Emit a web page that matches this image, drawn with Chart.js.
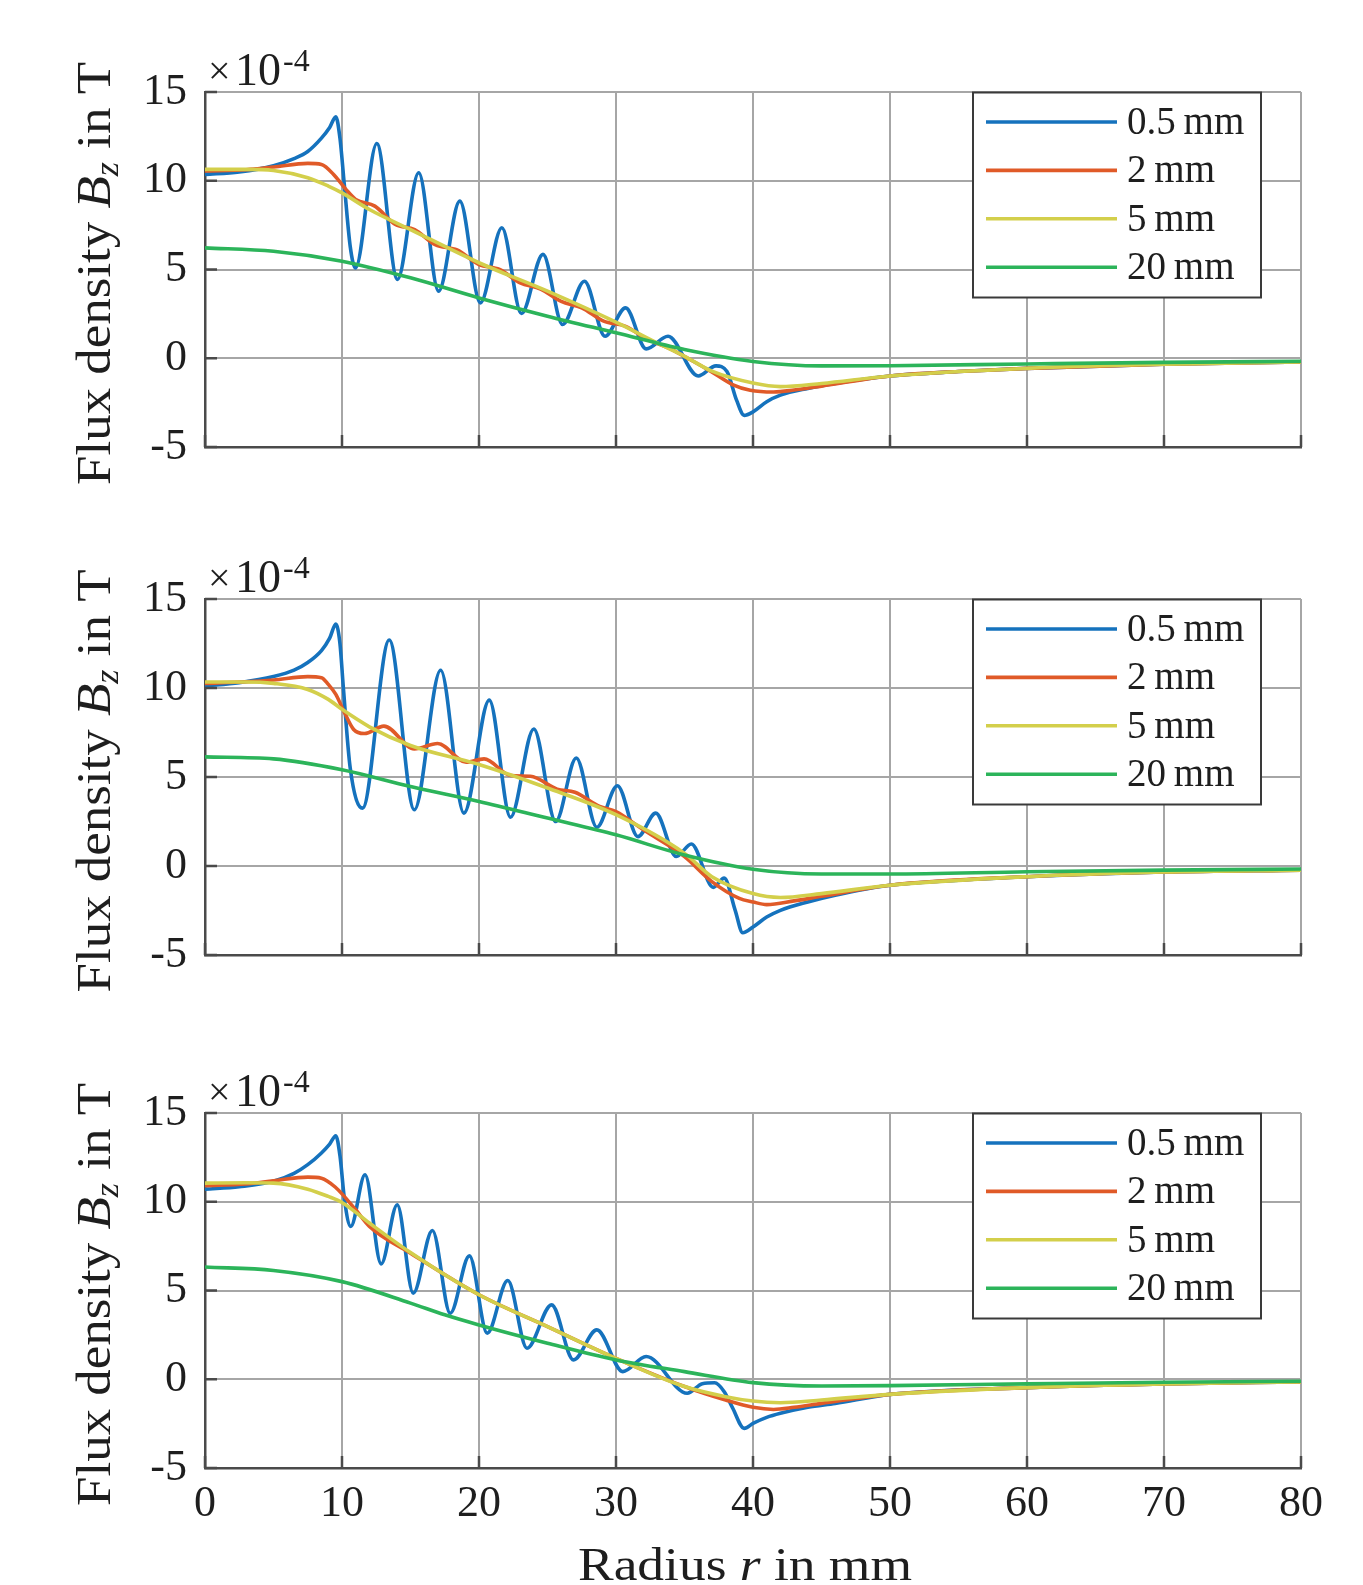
<!DOCTYPE html>
<html>
<head>
<meta charset="utf-8">
<script src="https://cdn.jsdelivr.net/npm/chart.js@4.4.1/dist/chart.umd.min.js"></script>
<style>
  html, body { margin:0; padding:0; background:#fff; }
  #fig { position:relative; width:1363px; height:1585px; overflow:hidden; background:#fff; }
  #fig canvas { position:absolute; left:0; }
</style>
</head>
<body>
<div id="fig">
  <canvas id="c1" width="1363" height="507" style="top:0;width:1363px;height:507px"></canvas>
  <canvas id="c2" width="1363" height="507" style="top:507px;width:1363px;height:507px"></canvas>
  <canvas id="c3" width="1363" height="564" style="top:1021px;width:1363px;height:564px"></canvas>
</div>
<script>
// series labels + colours (MATLAB-ish palette as it appears in the picture)
const LABELS = ['0.5 mm', '2 mm', '5 mm', '20 mm'];
const COLORS = ['#1572bd', '#e05a28', '#d3cf4b', '#2cb45a'];

// ---- top panel (values in 1e-4 T, r in mm) ----
const top05x = [0, 2.5, 5, 6.5, 7.5, 8.5, 9.1, 9.55, 9.85, 10.2, 10.6, 10.98, 12.54, 14.05, 15.6, 17.05, 18.6, 20.1, 21.67, 23.1, 24.67, 26.1, 27.7, 29.2, 30.7, 32.2, 33.8, 36.0, 37.3, 38.1, 38.8, 39.36, 40, 41, 42, 44, 46, 50, 55, 60, 70, 80];
const top05y = [10.36, 10.5, 10.85, 11.25, 11.65, 12.4, 13.0, 13.6, 12.4, 9.5, 6.3, 5.09, 12.1, 4.44, 10.45, 3.78, 8.85, 3.12, 7.35, 2.52, 5.85, 1.9, 4.34, 1.24, 2.84, 0.53, 1.24, -1.0, -0.43, -0.75, -2.36, -3.22, -3.02, -2.45, -2.08, -1.7, -1.42, -1.0, -0.75, -0.57, -0.34, -0.21];
const top2x = [0, 3, 5, 7.5, 8.5, 9.5, 10.3, 11, 12.4, 13.9, 15.3, 16.8, 18.4, 20, 21.5, 23, 24.5, 26, 27.5, 29.1, 30.7, 32.2, 33.8, 35.4, 36.9, 38.5, 39.8, 41.5, 43, 45, 50, 55, 60, 70, 80];
const top2y = [10.55, 10.62, 10.77, 10.98, 10.92, 10.26, 9.5, 8.95, 8.57, 7.54, 7.25, 6.4, 6.1, 5.28, 5.0, 4.25, 3.9, 3.2, 2.84, 2.09, 1.8, 1.1, 0.58, -0.07, -0.73, -1.48, -1.8, -1.9, -1.79, -1.57, -1.0, -0.75, -0.57, -0.34, -0.21];
const top5x = [0, 3, 5, 7.5, 9, 10, 12, 15, 20, 25, 30, 33, 35, 37, 40, 42, 45, 50, 60, 70, 80];
const top5y = [10.64, 10.64, 10.58, 10.17, 9.7, 9.32, 8.38, 7.25, 5.38, 3.78, 2.03, 0.86, 0.11, -0.73, -1.4, -1.6, -1.42, -1.0, -0.57, -0.34, -0.21];
const top20x = [0, 5, 10, 15, 20, 25, 30, 35, 40, 45, 50, 60, 70, 80];
const top20y = [6.22, 6.03, 5.47, 4.53, 3.4, 2.37, 1.43, 0.49, -0.18, -0.43, -0.42, -0.32, -0.23, -0.17];

// ---- middle panel ----
const mid05x = [0, 2.5, 5, 6.5, 7.5, 8.5, 9.1, 9.55, 9.85, 10.1, 10.6, 11.5, 13.45, 15.28, 17.2, 18.9, 20.75, 22.3, 24.0, 25.6, 27.1, 28.6, 30.1, 31.6, 32.9, 34.4, 35.5, 37.1, 37.9, 38.7, 39.25, 40, 41, 42, 44, 46, 50, 55, 60, 70, 80];
const mid05y = [10.11, 10.3, 10.64, 11.0, 11.43, 12.1, 12.8, 13.59, 12.5, 10.0, 5.5, 3.25, 12.7, 3.16, 11.0, 2.97, 9.32, 2.74, 7.7, 2.5, 6.07, 2.18, 4.51, 1.65, 2.97, 0.53, 1.24, -1.2, -0.68, -2.49, -3.75, -3.43, -2.87, -2.49, -2.02, -1.64, -1.08, -0.8, -0.6, -0.34, -0.23];
const mid2x = [0, 3, 5, 7.5, 8.5, 9.0, 9.55, 10.07, 10.85, 11.63, 13.06, 15.28, 16.98, 19.06, 20.37, 22.32, 23.75, 25.7, 27.0, 28.8, 30, 32, 35, 37, 39, 40, 41, 43, 45, 50, 60, 70, 80];
const mid2y = [10.26, 10.35, 10.45, 10.64, 10.58, 10.2, 9.64, 8.8, 7.67, 7.44, 7.86, 6.58, 6.88, 5.83, 6.02, 5.08, 5.04, 4.32, 4.14, 3.35, 3.06, 2.03, 0.53, -0.88, -1.82, -2.02, -2.17, -1.96, -1.7, -1.08, -0.6, -0.34, -0.23];
const mid5x = [0, 3, 5, 7.5, 9, 10, 12, 15, 20, 25, 30, 35, 37, 40, 42, 45, 50, 60, 70, 80];
const mid5y = [10.34, 10.34, 10.26, 9.92, 9.36, 8.8, 7.82, 6.77, 5.7, 4.38, 2.88, 0.71, -0.6, -1.55, -1.77, -1.55, -1.08, -0.6, -0.34, -0.23];
const mid20x = [0, 5, 10, 15, 20, 25, 30, 35, 40, 45, 50, 60, 70, 80];
const mid20y = [6.13, 6.02, 5.41, 4.47, 3.63, 2.69, 1.75, 0.62, -0.18, -0.45, -0.45, -0.32, -0.23, -0.17];

// ---- bottom panel ----
const bot05x = [0, 2.5, 5, 6.5, 7.5, 8.5, 9.1, 9.55, 9.85, 10.2, 10.64, 11.68, 12.86, 14.03, 15.2, 16.6, 17.9, 19.3, 20.6, 22.1, 23.5, 25.3, 26.9, 28.6, 30.5, 32.2, 35.2, 36.3, 37.2, 37.9, 38.5, 39.36, 40, 41, 42, 44, 46, 50, 60, 70, 80];
const bot05y = [10.71, 10.85, 11.15, 11.6, 12.09, 12.75, 13.25, 13.72, 12.6, 10.0, 8.61, 11.52, 6.5, 9.83, 4.85, 8.38, 3.72, 6.95, 2.6, 5.56, 1.75, 4.19, 1.09, 2.78, 0.43, 1.28, -0.79, -0.25, -0.2, -0.7, -1.6, -2.77, -2.49, -2.15, -1.92, -1.58, -1.36, -0.85, -0.47, -0.26, -0.15];
const bot2x = [0, 3, 5, 7.5, 8.5, 9.5, 11, 12, 15, 20, 25, 30, 35, 38, 40, 41.5, 43, 45, 50, 60, 70, 80];
const bot2y = [10.9, 11.0, 11.18, 11.39, 11.33, 10.83, 9.55, 8.61, 7.1, 4.76, 2.97, 1.18, -0.41, -1.17, -1.58, -1.7, -1.58, -1.36, -0.85, -0.47, -0.26, -0.15];
const bot5x = [0, 3, 5, 7.5, 9, 10, 12, 15, 20, 25, 30, 35, 38, 40, 42, 45, 50, 60, 70, 80];
const bot5y = [11.05, 11.07, 11.05, 10.71, 10.3, 9.96, 8.8, 7.14, 4.76, 2.97, 1.18, -0.41, -0.98, -1.23, -1.32, -1.17, -0.85, -0.47, -0.26, -0.15];
const bot20x = [0, 5, 10, 15, 17.5, 20, 25, 30, 35, 40, 45, 50, 60, 70, 80];
const bot20y = [6.32, 6.13, 5.5, 4.29, 3.63, 3.06, 2.03, 1.09, 0.43, -0.19, -0.38, -0.36, -0.26, -0.17, -0.11];

const SERIF = '"Liberation Serif", "Times New Roman", serif';
const TXT = '#1e1e1e';
const AXIS = '#4a4a4a';
const GRID = '#a6a6a6';

// draws a run of mixed-font text pieces, stretched to a target width
function drawRuns(ctx, runs, x0, y0, targetW) {
  let w = 0;
  runs.forEach(r => { ctx.font = r.f; r.w = ctx.measureText(r.t).width; w += r.w; });
  const k = targetW ? targetW / w : 1;
  ctx.save();
  ctx.translate(x0, y0);
  ctx.scale(k, 1);
  let x = -w / 2;
  runs.forEach(r => {
    ctx.font = r.f;
    ctx.fillText(r.t, x, r.dy || 0);
    x += r.w;
  });
  ctx.restore();
}

const decor = {
  id: 'decor',
  afterDraw(chart, args, opts) {
    const { ctx, chartArea: a, scales: { x, y } } = chart;
    ctx.save();

    // inward tick marks on left and bottom axes
    ctx.strokeStyle = AXIS;
    ctx.lineWidth = 2.5;
    ctx.beginPath();
    x.ticks.forEach(t => {
      const px = x.getPixelForValue(t.value);
      ctx.moveTo(px, a.bottom); ctx.lineTo(px, a.bottom - 12);
    });
    y.ticks.forEach(t => {
      const py = y.getPixelForValue(t.value);
      ctx.moveTo(a.left, py); ctx.lineTo(a.left + 12, py);
    });
    ctx.stroke();

    // legend box, top-right inside the axes
    const bx = a.right - 328, by = a.top + 0.5, bw = 288, bh = 205;
    ctx.fillStyle = '#fff';
    ctx.fillRect(bx, by, bw, bh);
    ctx.strokeStyle = '#3a3a3a';
    ctx.lineWidth = 2;
    ctx.strokeRect(bx, by, bw, bh);
    ctx.font = '39px ' + SERIF;
    ctx.textBaseline = 'alphabetic';
    chart.data.datasets.forEach((ds, i) => {
      const ly = by + 29.5 + i * 48.4;
      ctx.strokeStyle = ds.borderColor;
      ctx.lineWidth = 3.6;
      ctx.beginPath(); ctx.moveTo(bx + 13, ly); ctx.lineTo(bx + 144, ly); ctx.stroke();
      ctx.fillStyle = TXT;
      ctx.fillText(ds.label.replace(' ', '\u2009'), bx + 154, ly + 12);
    });

    ctx.fillStyle = TXT;
    ctx.textBaseline = 'alphabetic';

    // exponent  x10^-4
    ctx.font = '40px ' + SERIF;
    ctx.fillText('\u00d7', a.left + 3, a.top - 8);
    ctx.font = '46px ' + SERIF;
    ctx.fillText('10', a.left + 30, a.top - 7);
    ctx.font = '32px ' + SERIF;
    ctx.fillText('-4', a.left + 78, a.top - 21);

    // y title, rotated
    ctx.save();
    ctx.translate(110, (a.top + a.bottom) / 2 + 4);
    ctx.rotate(-Math.PI / 2);
    drawRuns(ctx, [
      { t: 'Flux density ', f: '48px ' + SERIF },
      { t: 'B', f: 'italic 48px ' + SERIF },
      { t: 'z', f: 'italic 33px ' + SERIF, dy: 8 },
      { t: ' in T', f: '48px ' + SERIF }
    ], 0, 0, 423);
    ctx.restore();

    // x title only under the last panel
    if (opts.xTitle) {
      drawRuns(ctx, [
        { t: 'Radius ', f: '46px ' + SERIF },
        { t: 'r', f: 'italic 46px ' + SERIF },
        { t: ' in mm', f: '46px ' + SERIF }
      ], 745, a.bottom + 112, 334);
    }
    ctx.restore();
  }
};

function makeChart(id, xs, ys, bottomH, showX) {
  const datasets = LABELS.map((lab, i) => ({
    label: lab,
    data: xs[i].map((v, k) => ({ x: v, y: ys[i][k] })),
    borderColor: COLORS[i],
    borderWidth: 3.6,
    pointRadius: 0,
    fill: false,
    cubicInterpolationMode: 'monotone',
    order: 3 - i
  }));
  return new Chart(document.getElementById(id), {
    type: 'line',
    data: { datasets },
    options: {
      responsive: false,
      animation: false,
      devicePixelRatio: 1,
      layout: { padding: { top: 92, right: 62, left: 0, bottom: 0 } },
      plugins: { legend: { display: false }, tooltip: { enabled: false }, decor: { xTitle: showX } },
      scales: {
        x: {
          type: 'linear', min: 0, max: 80,
          ticks: { stepSize: 10, display: showX, autoSkip: false, maxRotation: 0, padding: 10,
                   color: TXT, font: { family: SERIF, size: 44 } },
          grid: { color: GRID, lineWidth: 2, drawTicks: false },
          border: { color: AXIS, width: 2.5 },
          afterFit: s => { s.height = bottomH; }
        },
        y: {
          min: -5, max: 15,
          ticks: { stepSize: 5, padding: 18, color: TXT, font: { family: SERIF, size: 44 } },
          grid: { color: GRID, lineWidth: 2, drawTicks: false },
          border: { color: AXIS, width: 2.5 },
          afterFit: s => { s.width = 205; }
        }
      }
    },
    plugins: [decor]
  });
}

makeChart('c1', [top05x, top2x, top5x, top20x], [top05y, top2y, top5y, top20y], 60, false);
makeChart('c2', [mid05x, mid2x, mid5x, mid20x], [mid05y, mid2y, mid5y, mid20y], 59, false);
makeChart('c3', [bot05x, bot2x, bot5x, bot20x], [bot05y, bot2y, bot5y, bot20y], 117, true);
</script>
</body>
</html>
